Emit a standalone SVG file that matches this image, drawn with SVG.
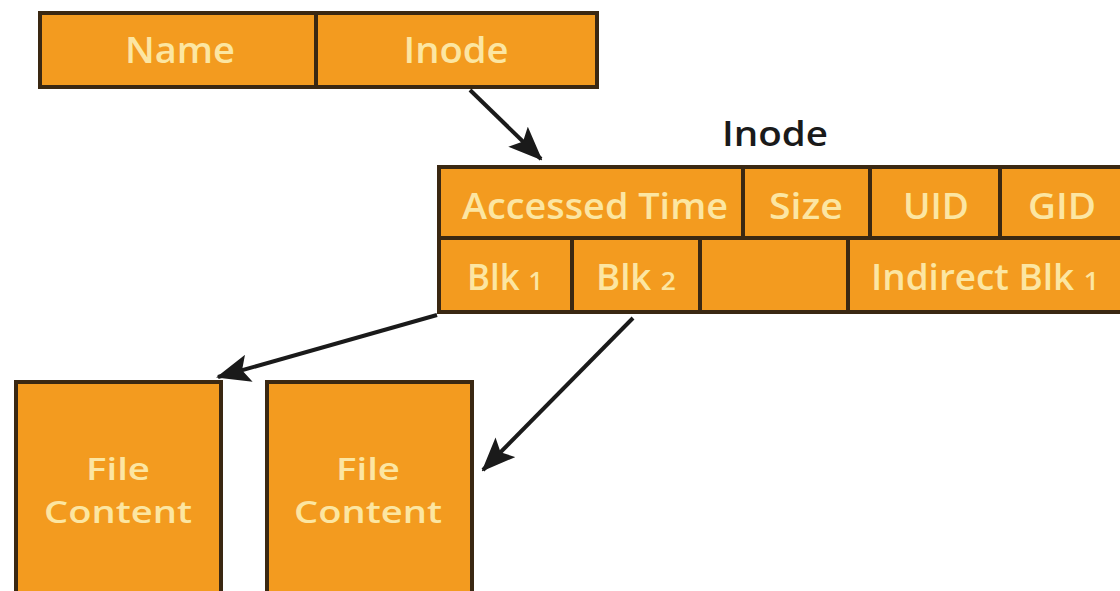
<svg xmlns="http://www.w3.org/2000/svg" width="1120" height="591" viewBox="0 0 1120 591">
<defs>
<style>
.cell{fill:#F39B1F;stroke:#3A2812;stroke-width:4}
.lbl{font-family:"Open Sans","Liberation Sans",Arial,sans-serif;font-weight:600;font-size:36px;fill:#FCE6A2;text-anchor:middle}
.fc{font-size:31px}
.hdr{font-family:"Open Sans","Liberation Sans",Arial,sans-serif;font-weight:600;font-size:34px;fill:#1a1a1a;text-anchor:middle}
.conn{stroke:#1a1a1a;stroke-width:4;fill:none}
</style>
<marker id="arrow" viewBox="0 0 34 28" refX="32" refY="14" markerWidth="34" markerHeight="28" markerUnits="userSpaceOnUse" orient="auto">
<path d="M0,0 L34,14 L0,28 L7,14 Z" fill="#1a1a1a"/>
</marker>
</defs>
<rect width="1120" height="591" fill="#ffffff"/>
<g id="dir-entry">
<rect class="cell" x="40" y="13" width="276" height="74"/>
<rect class="cell" x="316" y="13" width="281" height="74"/>
<text class="lbl" x="180" y="63" textLength="110" lengthAdjust="spacingAndGlyphs">Name</text>
<text class="lbl" x="456" y="63" textLength="105" lengthAdjust="spacingAndGlyphs">Inode</text>
</g>
<g id="inode">
<text class="hdr" x="775" y="146" textLength="106" lengthAdjust="spacingAndGlyphs">Inode</text>
<rect class="cell" x="439" y="167" width="304" height="71"/>
<rect class="cell" x="743" y="167" width="127" height="71"/>
<rect class="cell" x="870" y="167" width="130" height="71"/>
<rect class="cell" x="1000" y="167" width="124" height="71"/>
<rect class="cell" x="439" y="238" width="133" height="74"/>
<rect class="cell" x="572" y="238" width="128" height="74"/>
<rect class="cell" x="700" y="238" width="148" height="74"/>
<rect class="cell" x="848" y="238" width="276" height="74"/>
<text class="lbl" x="595" y="219" textLength="266" lengthAdjust="spacingAndGlyphs">Accessed Time</text>
<text class="lbl" x="806" y="219" textLength="74" lengthAdjust="spacingAndGlyphs">Size</text>
<text class="lbl" x="936" y="219" textLength="66" lengthAdjust="spacingAndGlyphs">UID</text>
<text class="lbl" x="1062" y="219" textLength="68" lengthAdjust="spacingAndGlyphs">GID</text>
<text class="lbl" x="505" y="290" textLength="76" lengthAdjust="spacingAndGlyphs">Blk <tspan font-size="26">1</tspan></text>
<text class="lbl" x="636" y="290" textLength="80" lengthAdjust="spacingAndGlyphs">Blk <tspan font-size="26">2</tspan></text>
<text class="lbl" x="985" y="290" textLength="228" lengthAdjust="spacingAndGlyphs">Indirect Blk <tspan font-size="26">1</tspan></text>
</g>
<g id="file-content-1">
<rect class="cell" x="16" y="382" width="205" height="215"/>
<text class="lbl fc" x="118" y="480" textLength="64" lengthAdjust="spacingAndGlyphs">File</text>
<text class="lbl fc" x="118" y="523" textLength="148" lengthAdjust="spacingAndGlyphs">Content</text>
</g>
<g id="file-content-2">
<rect class="cell" x="267" y="382" width="205" height="215"/>
<text class="lbl fc" x="368" y="480" textLength="64" lengthAdjust="spacingAndGlyphs">File</text>
<text class="lbl fc" x="368" y="523" textLength="148" lengthAdjust="spacingAndGlyphs">Content</text>
</g>
<g id="connectors">
<line class="conn" x1="470" y1="90" x2="541" y2="159" marker-end="url(#arrow)"/>
<line class="conn" x1="437" y1="315" x2="218" y2="377" marker-end="url(#arrow)"/>
<line class="conn" x1="633" y1="318" x2="483" y2="470" marker-end="url(#arrow)"/>
</g>
</svg>
